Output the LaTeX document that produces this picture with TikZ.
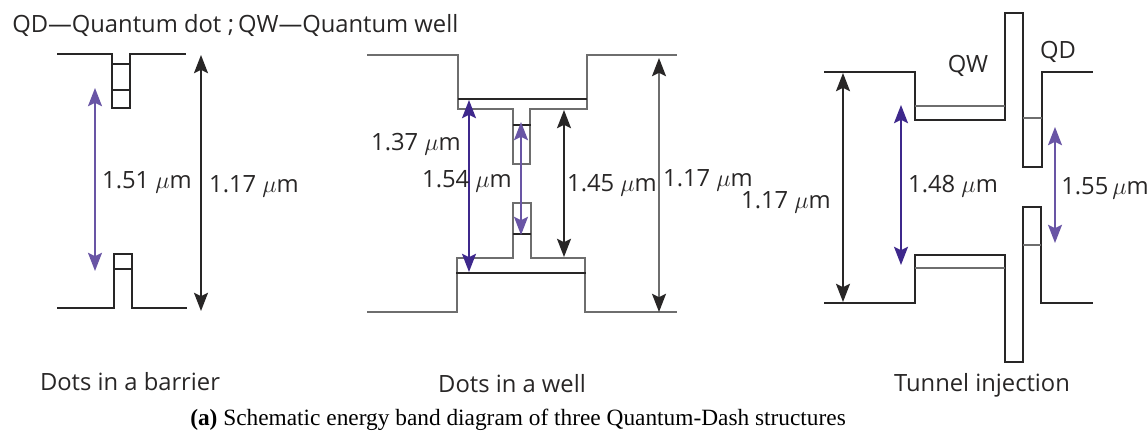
\documentclass[tikz,border=0pt]{standalone}
\usepackage{amsmath}
\usepackage{fontspec}
\usepackage{tikz}
\usepackage{xcolor}
\setmainfont{Open Sans}
\newfontfamily\captionfont{Liberation Serif}
\usetikzlibrary{arrows.meta}
\definecolor{inkdark}{RGB}{40,38,38}
\definecolor{wellpurple}{RGB}{62,40,140}
\definecolor{dotpurple}{RGB}{105,85,165}
\definecolor{bandgray}{RGB}{110,110,110}
\tikzset{
    band/.style={line width=1.15pt, inkdark},
    bandlight/.style={line width=1.15pt, bandgray},
    gap/.style={line width=1.2pt, {Stealth[length=13pt,width=10pt,inset=2.5pt]}-{Stealth[length=13pt,width=10pt,inset=2.5pt]}},
    lbl/.style={font=\fontsize{16.9}{19}\selectfont, text=inkdark, inner sep=0pt},
}

\begin{document}
\begin{tikzpicture}[x=0.025cm, y=-0.025cm]
    \useasboundingbox (0,0) rectangle (1148,432);
    \node[lbl, anchor=west] (legend) at (12,25) {QD---Quantum dot\;;\,QW---Quantum well};

    % dots in a barrier
    \draw[band] (57,54) -- (112,54) -- (112,108) -- (130,108) -- (130,54) -- (186,54);
    \draw[band] (112,64) -- (131,64);
    \draw[band] (112,90) -- (130,90);
    \draw[band] (57,308) -- (114,308) -- (114,254) -- (132,254) -- (132,308) -- (187,308);
    \draw[band] (114,269) -- (133,269);
    \draw[gap, dotpurple] (95,88) -- (95,271);
    \draw[gap, inkdark] (201,55) -- (201,311);
    \node[lbl] (barrierdot) at (147,182) {1.51 $\mu$m};
    \node[lbl] (barrierbar) at (254,186) {1.17 $\mu$m};
    \node[lbl] (barriername) at (130,382) {Dots in a barrier};

    % dots in a well
    \draw[bandlight] (367,55) -- (458,55) -- (458,109) -- (513,109) -- (513,164) -- (530,164) -- (530,109) -- (587,109) -- (587,55) -- (677,55);
    \draw[band] (458,99) -- (587,99);
    \draw[band] (513,125) -- (531,125);
    \draw[bandlight] (367,312) -- (457,312) -- (457,258) -- (513,258) -- (513,203) -- (531,203) -- (531,258) -- (585,258) -- (585,312) -- (677,312);
    \draw[band] (456,273) -- (586,273);
    \draw[band] (513,234) -- (531,234);
    \draw[gap, wellpurple] (469,100) -- (469,272);
    \draw[gap, dotpurple] (521,122) -- (521,235);
    \draw[gap, inkdark] (564,110) -- (564,257);
    \draw[gap, bandgray, {Stealth[length=13pt,width=10pt,inset=2.5pt,color=inkdark]}-{Stealth[length=13pt,width=10pt,inset=2.5pt,color=inkdark]}] (659,58) -- (659,312);
    \node[lbl] (wellup) at (416,144) {1.37 $\mu$m};
    \node[lbl] (welldot) at (467,181) {1.54 $\mu$m};
    \node[lbl] (wellgap) at (612,185) {1.45 $\mu$m};
    \node[lbl] (wellbar) at (708,180) {1.17 $\mu$m};
    \node[lbl] (wellname) at (512,384) {Dots in a well};

    % tunnel injection
    \draw[band] (824,72) -- (915,72) -- (915,120) -- (1005,120) -- (1005,13) -- (1023,13) -- (1023,167) -- (1042,167) -- (1042,72) -- (1093,72);
    \draw[bandlight] (915,106) -- (1005,106);
    \draw[bandlight] (1023,118) -- (1042,118);
    \draw[band] (824,303) -- (915,303) -- (915,255) -- (1005,255) -- (1005,362) -- (1023,362) -- (1023,207) -- (1041,207) -- (1041,303) -- (1093,303);
    \draw[bandlight] (915,268) -- (1005,268);
    \draw[bandlight] (1023,245) -- (1041,245);
    \draw[gap, inkdark] (843,73) -- (843,302);
    \draw[gap, wellpurple] (901,105) -- (901,265);
    \draw[gap, dotpurple] (1055,127) -- (1055,243);
    \node[lbl] (tunnelqw) at (968,66) {QW};
    \node[lbl] (tunnelqd) at (1058,52) {QD};
    \node[lbl] (tunnelwell) at (953,186) {1.48 $\mu$m};
    \node[lbl] (tunneldot) at (1105,188) {1.55\,$\mu$m};
    \node[lbl] (tunnelbar) at (786,202) {1.17 $\mu$m};
    \node[lbl] (tunnelname) at (982,385) {Tunnel injection};

    \node[inner sep=0pt, anchor=west, font=\fontsize{16.6}{18}\selectfont\captionfont] (caption) at (190,420) {\textbf{(a)} Schematic energy band diagram of three Quantum-Dash structures};
\end{tikzpicture}
\end{document}
